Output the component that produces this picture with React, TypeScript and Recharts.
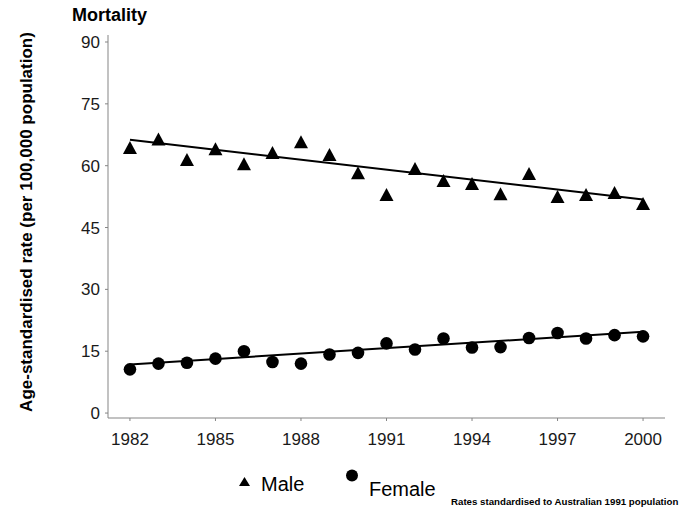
import React from 'react';
import { ScatterChart, Scatter, XAxis, YAxis } from 'recharts';

const years = [1982, 1983, 1984, 1985, 1986, 1987, 1988, 1989, 1990, 1991, 1992, 1993, 1994, 1995, 1996, 1997, 1998, 1999, 2000];
const maleRates = [64.4, 66.5, 61.5, 64.1, 60.5, 63.2, 65.8, 62.7, 58.3, 53.0, 59.3, 56.4, 55.7, 53.2, 58.1, 52.5, 53.0, 53.5, 50.8];
const femaleRates = [10.6, 12.0, 12.2, 13.2, 15.0, 12.4, 12.0, 14.2, 14.6, 16.9, 15.4, 18.1, 15.9, 16.0, 18.2, 19.4, 18.1, 18.9, 18.6];

// fitted trend lines, read at both ends
const trendYears = [1982, 2000];
const maleTrend = [66.3, 51.8];
const femaleTrend = [11.8, 19.7];

const xTicks = [1982, 1985, 1988, 1991, 1994, 1997, 2000];
const yTicks = [0, 15, 30, 45, 60, 75, 90];

const FONT = '"Liberation Sans", Arial, Helvetica, sans-serif';
const AXIS = '#858585';

const maleData = years.map((year, i) => ({ year, rate: maleRates[i] }));
const femaleData = years.map((year, i) => ({ year, rate: femaleRates[i] }));
const maleTrendData = trendYears.map((year, i) => ({ year, rate: maleTrend[i] }));
const femaleTrendData = trendYears.map((year, i) => ({ year, rate: femaleTrend[i] }));

const Triangle = (props: any) => {
  const { cx, cy } = props;
  if (cx == null || cy == null) return <g />;
  return <polygon points={`${cx - 7},${cy + 6.5} ${cx + 7},${cy + 6.5} ${cx},${cy - 6.5}`} fill="#000" />;
};

const Dot = (props: any) => {
  const { cx, cy } = props;
  if (cx == null || cy == null) return <g />;
  return <circle cx={cx} cy={cy} r={6.3} fill="#000" />;
};

const Nothing = () => <g />;

const YLabel = () => (
  <text
    transform="translate(32,222) rotate(-90)"
    textAnchor="middle"
    fontFamily={FONT}
    fontWeight="bold"
    fontSize={17}
    fill="#000"
  >
    Age-standardised rate (per 100,000 population)
  </text>
);

export default function App() {
  return (
    <div style={{ position: 'absolute', left: 0, top: 0, width: 696, height: 511, background: '#fff', fontFamily: FONT }}>
      <ScatterChart width={696} height={511} margin={{ top: 35, right: 31, bottom: 63, left: 0 }}>
        <XAxis
          type="number"
          dataKey="year"
          domain={[1981.23, 2000.77]}
          ticks={xTicks}
          allowDataOverflow
          height={30}
          stroke={AXIS}
          tickSize={3}
          tickMargin={12}
          tick={{ fill: '#1a1a1a', fontSize: 17, fontFamily: FONT }}
        />
        <YAxis
          type="number"
          dataKey="rate"
          domain={[-1.2, 91.7]}
          ticks={yTicks}
          allowDataOverflow
          width={108}
          stroke={AXIS}
          tickSize={3}
          tickMargin={5}
          tick={{ fill: '#1a1a1a', fontSize: 17, fontFamily: FONT }}
          label={<YLabel />}
        />
        <Scatter data={maleTrendData} shape={Nothing} line={{ stroke: '#000', strokeWidth: 2 }} isAnimationActive={false} />
        <Scatter data={femaleTrendData} shape={Nothing} line={{ stroke: '#000', strokeWidth: 2 }} isAnimationActive={false} />
        <Scatter name="Male" data={maleData} shape={Triangle} isAnimationActive={false} />
        <Scatter name="Female" data={femaleData} shape={Dot} isAnimationActive={false} />
      </ScatterChart>

      <svg width={696} height={511} style={{ position: 'absolute', left: 0, top: 0, pointerEvents: 'none' }}>
        <text x={72} y={21} fontFamily={FONT} fontWeight="bold" fontSize={18} fill="#000">Mortality</text>
        <polygon points="239,486 250,486 244.5,477" fill="#000" />
        <text x={261} y={491} fontFamily={FONT} fontSize={20} fill="#000">Male</text>
        <circle cx={352} cy={475.5} r={6} fill="#000" />
        <text x={369} y={496} fontFamily={FONT} fontSize={20} fill="#000">Female</text>
        <text x={451} y={505} fontFamily={FONT} fontWeight="bold" fontSize={9.7} fill="#000">
          Rates standardised to Australian 1991 population
        </text>
      </svg>
    </div>
  );
}
